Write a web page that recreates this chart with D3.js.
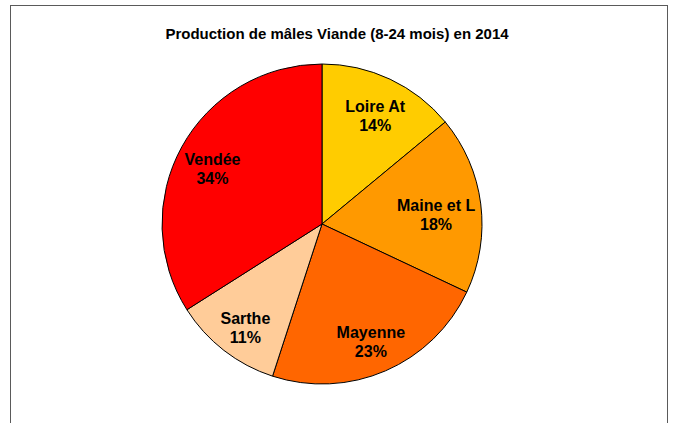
<!DOCTYPE html>
<html>
<head>
<meta charset="utf-8">
<script src="https://cdn.jsdelivr.net/npm/d3@7"></script>
<style>
  body { margin: 0; background: #fff; }
  text { font-family: "Liberation Sans", Arial, sans-serif; font-weight: bold; fill: #000; }
</style>
</head>
<body>
<svg id="figure"></svg>
<script>
var fullWidth = 675;
var fullHeight = 423;

// data
var departements = ["Loire At", "Maine et L", "Mayenne", "Sarthe", "Vendée"];
var parts = [14, 18, 23, 11, 34];
var couleurs = ["#FFCC00", "#FF9900", "#FF6600", "#FFCC99", "#FF0000"];
var titre = "Production de mâles Viande (8-24 mois) en 2014";

var cx = 322, cy = 224, radius = 160;

var svg = d3.select("#figure")
    .attr("width", fullWidth)
    .attr("height", fullHeight);

// cadre
svg.append("rect")
    .attr("x", 10.5).attr("y", 5.5)
    .attr("width", 657).attr("height", 430)
    .attr("fill", "none")
    .attr("stroke", "#5a5a5a")
    .attr("stroke-width", 1);

svg.append("text")
    .attr("x", 337).attr("y", 39)
    .attr("text-anchor", "middle")
    .style("font-size", "15px")
    .text(titre);

var data = departements.map(function (d, i) { return {nom: d, val: parts[i], col: couleurs[i]}; });

var pie = d3.pie().sort(null).value(function (d) { return d.val; });
var arc = d3.arc().innerRadius(0).outerRadius(radius);

var g = svg.append("g").attr("transform", "translate(" + cx + "," + cy + ")");

g.selectAll("path").data(pie(data)).enter()
    .append("path")
    .attr("d", arc)
    .attr("fill", function (d) { return d.data.col; })
    .attr("stroke", "#000")
    .attr("stroke-width", 1);

var labels = g.selectAll("text.lbl").data(pie(data)).enter()
    .append("text")
    .attr("class", "lbl")
    .attr("text-anchor", "middle")
    .style("font-size", "16px");

labels.append("tspan").attr("x", 0).attr("y", -3.5).text(function (d) { return d.data.nom; });
labels.append("tspan").attr("x", 0).attr("y", 15.5).text(function (d) { return d.data.val + "%"; });

// place label at r=125, pull inward until the box stays inside the pie
labels.attr("transform", function (d) {
    var hw = this.getBBox().width / 2, hh = 14;
    var a = (d.startAngle + d.endAngle) / 2;
    var r = 125, px, py;
    for (; r > 40; r--) {
        px = r * Math.sin(a);
        py = -r * Math.cos(a) + 5;
        var ok = [[-hw, -hh], [hw, -hh], [-hw, hh], [hw, hh]].every(function (c) {
            return Math.hypot(px + c[0], py + c[1]) <= radius - 4;
        });
        if (ok) break;
    }
    return "translate(" + px + "," + py + ")";
});
</script>
</body>
</html>
